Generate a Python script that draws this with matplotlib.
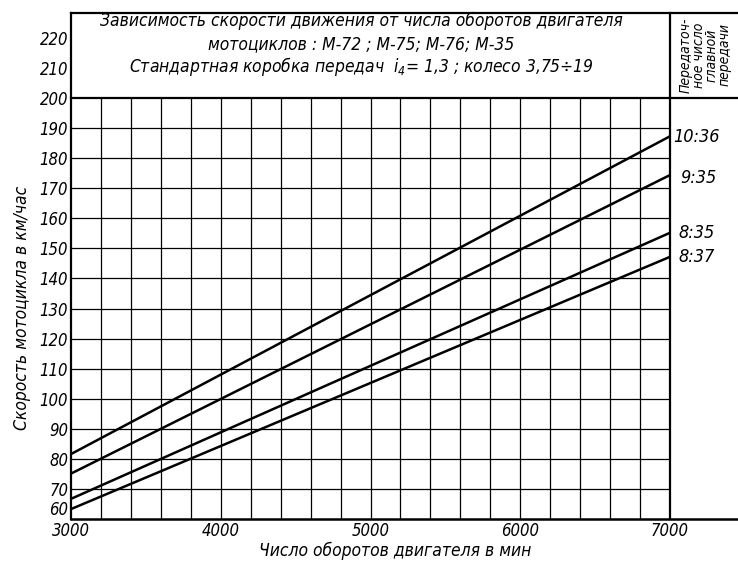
import matplotlib.pyplot as plt
import numpy as np

plt.rcParams['font.family'] = ['DejaVu Sans']
plt.rcParams['font.style'] = 'italic'
plt.rcParams['font.stretch'] = 'condensed'

# данные
rpm = [3000, 7000]
ratios = ['10:36', '9:35', '8:35', '8:37']
speeds = [
    [81.6, 187.3],
    [75.1, 174.4],
    [66.7, 155.2],
    [63.3, 147.2],
]
label_y = [187, 173.5, 155, 147]
label_x = [7020, 7070, 7055, 7055]
xticks = [3000, 4000, 5000, 6000, 7000]
yticks = list(range(60, 230, 10))

title_lines = [
    'Зависимость скорости движения от числа оборотов двигателя',
    'мотоциклов : М-72 ; М-75; М-76; М-35',
    'Стандартная коробка передач  $i_4$= 1,3 ; колесо 3,75÷19',
]

fig = plt.figure(figsize=(7.38, 5.65), dpi=100)
ax = fig.add_axes([71 / 738, 46 / 565, 599 / 738, 506 / 565])
ax.set_xlim(3000, 7000)
ax.set_ylim(60, 228.3)
xr = 7000 + (738 - 670) / 599 * 4000  # правый край картинки в данных

# сетка
for x in np.arange(3200, 7000, 200):
    ax.plot([x, x], [60, 200], color='k', lw=0.9)
for y in range(70, 200, 10):
    ax.plot([3000, 7000], [y, y], color='k', lw=0.9)

# рамки
ax.plot([3000, xr], [200, 200], color='k', lw=1.6, clip_on=False)
ax.plot([3000, xr], [228.3, 228.3], color='k', lw=1.6, clip_on=False)
ax.plot([3000, xr], [60, 60], color='k', lw=1.8, clip_on=False)
ax.plot([7000, 7000], [60, 228.3], color='k', lw=1.6, clip_on=False)
for s in ax.spines.values():
    s.set_visible(False)
ax.plot([3000, 3000], [60, 228.3], color='k', lw=1.6, clip_on=False)

# линии скорости
for sp, name, lx, ly in zip(speeds, ratios, label_x, label_y):
    ax.plot(rpm, sp, color='k', lw=1.8, solid_capstyle='butt')
    ax.text(lx, ly, name, fontsize=13, va='center', ha='left', clip_on=False)

ax.set_xticks(xticks)
ax.set_xticklabels([str(t) for t in xticks], fontsize=12)
ax.set_yticks(yticks)
ax.set_yticklabels([str(t) for t in yticks], fontsize=12)
ax.get_yticklabels()[0].set_va('bottom')
ax.tick_params(axis='y', length=0, pad=2)
ax.tick_params(axis='x', length=0, pad=2)

fig.text(395 / 738, 1 - 551 / 565, 'Число оборотов двигателя в мин',
         fontsize=12.5, ha='center', va='center')
fig.text(22 / 738, 1 - 308 / 565, 'Скорость мотоцикла в км/час',
         fontsize=12.5, rotation=90, ha='center', va='center')

# заголовок
for i, line in enumerate(title_lines):
    fig.text(361 / 738, 1 - (21 + 23 * i) / 565, line, fontsize=12.5,
             ha='center', va='center')

fig.text(705 / 738, 1 - 55 / 565, 'Передаточ-\nное число\nглавной\nпередачи',
         fontsize=10, rotation=90, ha='center', va='center', linespacing=0.9)

fig.savefig('out.png', dpi=100)
